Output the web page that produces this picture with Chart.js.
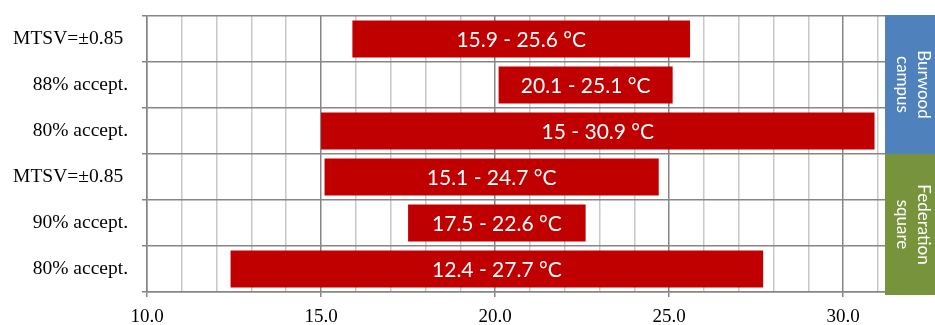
<!DOCTYPE html>
<html>
<head>
<meta charset="utf-8">
<script src="https://cdn.jsdelivr.net/npm/chart.js@4"></script>
<style>
  html, body { margin: 0; padding: 0; background: #fff; }
  #wrap { width: 935px; height: 325px; }
</style>
</head>
<body>
<div id="wrap"><canvas id="myChart" width="935" height="325"></canvas></div>
<script>
// comfort ranges per criterion, °C
const labels = ['MTSV=\u00b10.85 ', '88% accept.', '80% accept.', 'MTSV=\u00b10.85 ', '90% accept.', '80% accept.'];
const lowTemps = [15.9, 20.1, 15, 15.1, 17.5, 12.4];
const highTemps = [25.6, 25.1, 30.9, 24.7, 22.6, 27.7];
const sites = [['Burwood', 'campus'], ['Federation', 'square']];
const siteRows = [3, 3];
const siteColors = ['#4f81bd', '#77933c'];

const ranges = lowTemps.map((lo, i) => [lo, highTemps[i]]);

// white "lo - hi °C" text centred on each bar
const barText = {
    id: 'barText',
    afterDatasetsDraw(chart) {
        const ctx = chart.ctx;
        ctx.save();
        ctx.fillStyle = '#fff';
        ctx.font = '21px Lato';
        ctx.textAlign = 'center';
        ctx.textBaseline = 'middle';
        chart.getDatasetMeta(0).data.forEach((bar, i) => {
            const x = (bar.x + bar.base) / 2;
            ctx.fillText(lowTemps[i] + ' - ' + highTemps[i] + ' \u00b0C', x, bar.y + 1);
        });
        ctx.restore();
    }
};

// coloured site boxes on the right
const siteBoxes = {
    id: 'siteBoxes',
    afterDraw(chart) {
        const ctx = chart.ctx;
        const area = chart.chartArea;
        const step = (area.bottom - area.top) / labels.length;
        let top = area.top - 1;
        let row = 0;
        ctx.save();
        sites.forEach((lines, s) => {
            row += siteRows[s];
            const bottom = s === sites.length - 1 ? area.bottom + 3 : area.top + step * row;
            ctx.fillStyle = siteColors[s];
            ctx.fillRect(area.right, top, chart.width - area.right, bottom - top);
            ctx.save();
            ctx.translate(area.right + (chart.width - area.right) / 2, (top + bottom) / 2);
            ctx.rotate(Math.PI / 2);
            ctx.fillStyle = '#fff';
            ctx.font = '17px Lato';
            ctx.textAlign = 'center';
            ctx.textBaseline = 'middle';
            ctx.fillText(lines[0], 0, -13);
            ctx.fillText(lines[1], 0, 8);
            ctx.restore();
            top = bottom;
        });
        ctx.restore();
    }
};

const ctx = document.getElementById('myChart').getContext('2d');
new Chart(ctx, {
    type: 'bar',
    data: {
        labels: labels,
        datasets: [{
            data: ranges,
            backgroundColor: '#c00000',
            borderSkipped: false,
            barPercentage: 0.8,
            categoryPercentage: 1
        }]
    },
    options: {
        indexAxis: 'y',
        responsive: false,
        animation: false,
        layout: { padding: { top: 16, right: 50, left: 0, bottom: 0 } },
        plugins: { legend: { display: false }, tooltip: { enabled: false } },
        scales: {
            x: {
                min: 10,
                max: 31.2,
                afterFit: s => { s.height = 33; },
                border: { color: '#868686', width: 1.5 },
                grid: {
                    color: c => (c.tick && c.tick.value % 5 === 0) ? '#868686' : '#c8c8c8',
                    tickColor: c => (c.tick && c.tick.value % 5 === 0) ? '#868686' : 'rgba(0,0,0,0)',
                    lineWidth: 1.5,
                    tickLength: 5
                },
                ticks: {
                    stepSize: 1,
                    includeBounds: false,
                    autoSkip: false,
                    maxRotation: 0,
                    padding: 9,
                    color: '#000',
                    font: { family: 'Liberation Serif', size: 19 },
                    callback: v => v % 5 === 0 ? v.toFixed(1) : ''
                }
            },
            y: {
                afterFit: s => { s.width = 147; s.paddingTop = 0; s.paddingBottom = 0; },
                border: { color: '#868686', width: 1.5 },
                grid: { color: '#868686', lineWidth: 1.5, tickLength: 5, offset: true },
                ticks: {
                    padding: 14,
                    color: '#000',
                    font: { family: 'Liberation Serif', size: 19.5 }
                }
            }
        }
    },
    plugins: [barText, siteBoxes]
});
</script>
</body>
</html>
